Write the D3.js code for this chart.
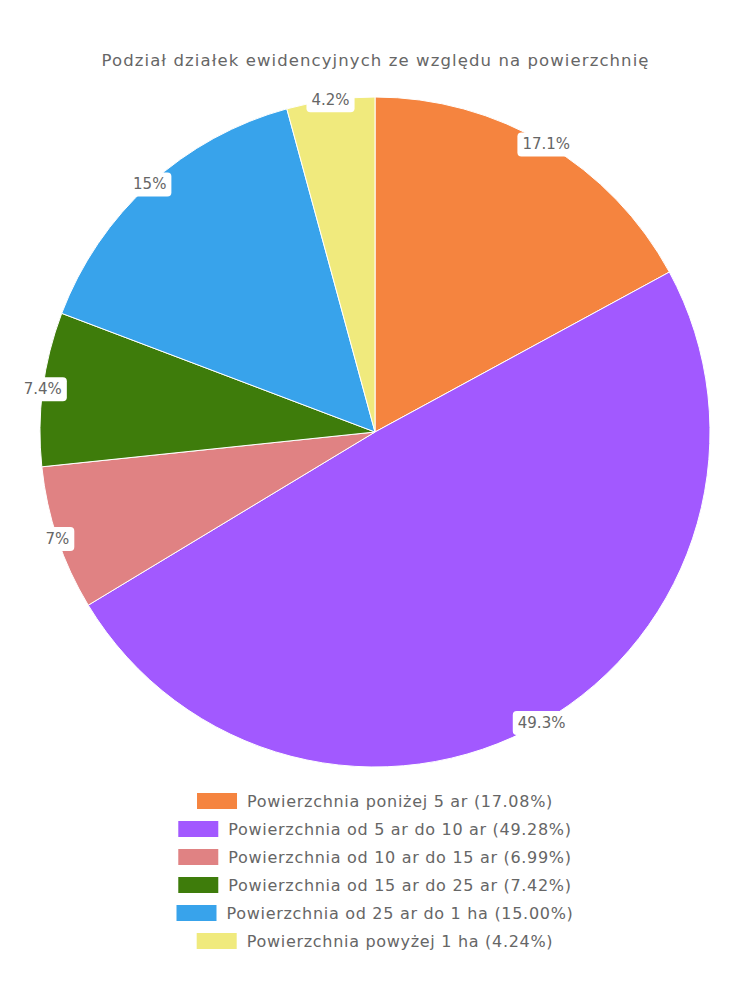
<!DOCTYPE html>
<html><head><meta charset="utf-8">
<script src="https://cdn.jsdelivr.net/npm/d3@7"></script>
<style>body{margin:0;background:#fff}svg{display:block}</style>
</head><body>
<script>
const title = "Podział działek ewidencyjnych ze względu na powierzchnię";
const categories = [
  "Powierzchnia poniżej 5 ar",
  "Powierzchnia od 5 ar do 10 ar",
  "Powierzchnia od 10 ar do 15 ar",
  "Powierzchnia od 15 ar do 25 ar",
  "Powierzchnia od 25 ar do 1 ha",
  "Powierzchnia powyżej 1 ha"
];
const values = [17.08, 49.28, 6.99, 7.42, 15.00, 4.24];
const colors = ["#F5843F", "#A259FF", "#E08283", "#3E7C0B", "#38A3EB", "#F0EA7D"];

const W = 750, H = 1000;
const font = "'DejaVu Sans', sans-serif";
const svg = d3.select("body").append("svg").attr("width", W).attr("height", H);

const tt = svg.append("text").attr("x", W/2).attr("y", 66).attr("text-anchor","middle")
  .attr("font-family", font).attr("font-size", 16.5).attr("fill", "#666").text(title);
tt.attr("textLength", 547).attr("lengthAdjust","spacing");

const cx = 375, cy = 432, R = 335;
const pie = d3.pie().sort(null).value(d => d)(values);
const arc = d3.arc().innerRadius(0).outerRadius(R);
const g = svg.append("g").attr("transform", `translate(${cx},${cy})`);
g.selectAll("path").data(pie).join("path")
  .attr("d", arc).attr("fill", (d,i) => colors[i])
  .attr("stroke", "#fff").attr("stroke-width", 1);

const lab = g.selectAll("g.lab").data(pie).join("g").attr("class","lab")
  .attr("transform", d => { const a = (d.startAngle + d.endAngle)/2; return `translate(${R*Math.sin(a)},${-R*Math.cos(a)})`; });
lab.each(function(d){
  const t = (Math.round(d.data*10)/10) + "%";
  const gg = d3.select(this);
  const txt = gg.append("text").attr("text-anchor","middle").attr("dy","0.36em")
    .attr("font-family", font).attr("font-size", 15).attr("fill","#666").text(t);
  const bb = txt.node().getBBox();
  gg.insert("rect","text").attr("x", bb.x-5).attr("y", bb.y-3).attr("width", bb.width+10).attr("height", bb.height+6)
    .attr("rx",4).attr("fill","#fff");
});

const leg = svg.append("g");
categories.forEach((c,i) => {
  const y = 801 + i*28;
  const label = `${c} (${values[i].toFixed(2)}%)`;
  const row = leg.append("g");
  const txt = row.append("text").attr("y", y).attr("dy","0.35em")
    .attr("font-family", font).attr("font-size", 16).attr("letter-spacing", 0.7).attr("fill","#666").text(label);
  const tw = txt.node().getComputedTextLength();
  const total = 40 + 10 + tw;
  const x0 = W/2 - total/2;
  row.append("rect").attr("x", x0).attr("y", y-8).attr("width",40).attr("height",16).attr("fill", colors[i]);
  txt.attr("x", x0 + 50);
});
</script>
</body></html>
